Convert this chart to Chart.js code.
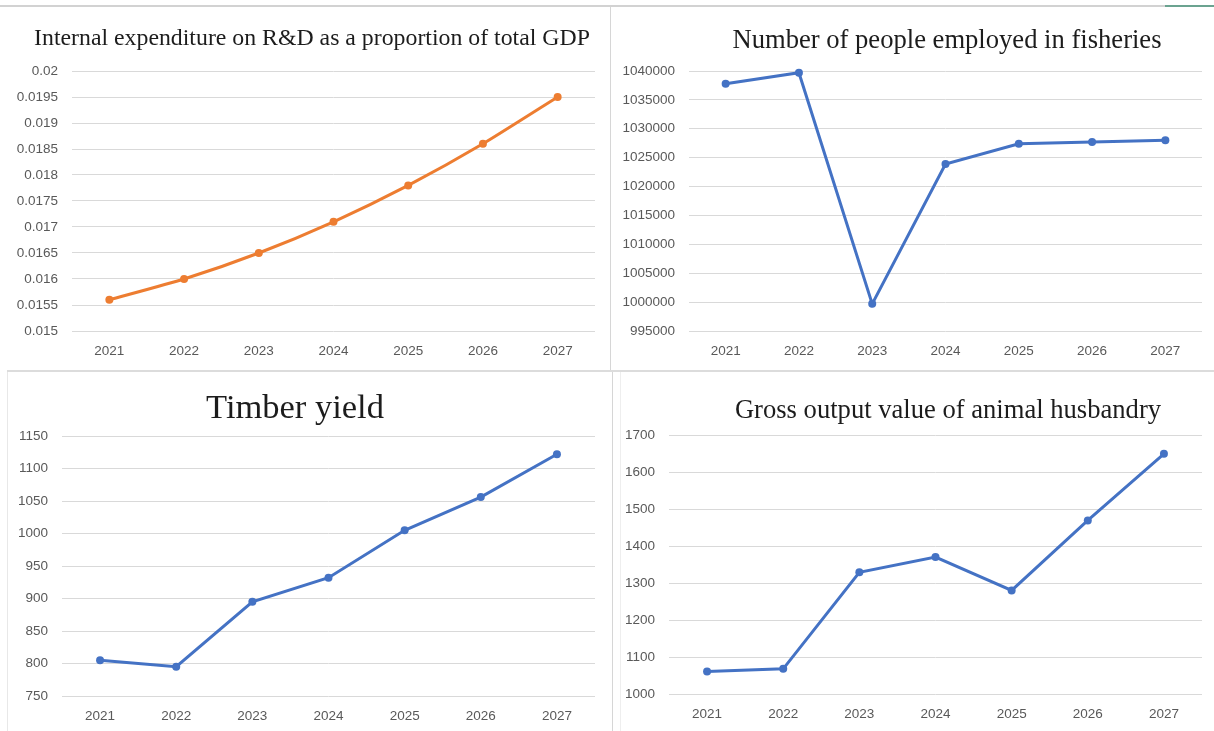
<!DOCTYPE html>
<html>
<head>
<meta charset="utf-8">
<script src="https://cdn.jsdelivr.net/npm/chart.js@4.4.1/dist/chart.umd.min.js"></script>
<style>
  html, body { margin: 0; padding: 0; background: #fff; }
  #page { position: relative; width: 1214px; height: 731px; overflow: hidden; }
  canvas { position: absolute; }
  .title {
    position: absolute;
    width: 640px;
    text-align: center;
    white-space: nowrap;
    font-family: "Liberation Serif", "DejaVu Serif", serif;
    color: #1c1c1c;
  }
  .rule { position: absolute; }
</style>
</head>
<body>
<div id="page">
  <div class="rule" style="left:0;top:5px;width:1165px;height:2px;background:#d2d2d2"></div>
  <div class="rule" style="left:1165px;top:5px;width:49px;height:2px;background:#6ba390"></div>
  <div class="rule" style="left:610px;top:7px;width:1px;height:363px;background:#d6d6d6"></div>
  <div class="rule" style="left:7px;top:370px;width:1207px;height:2px;background:#dcdcdc"></div>
  <div class="rule" style="left:7px;top:372px;width:1px;height:359px;background:#e8e8e8"></div>
  <div class="rule" style="left:612px;top:372px;width:1px;height:359px;background:#d6d6d6"></div>
  <div class="rule" style="left:620px;top:372px;width:1px;height:359px;background:#eeeeee"></div>

  <canvas id="rdChart" width="607" height="370" style="left:0;top:0"></canvas>
  <canvas id="fisheryChart" width="607" height="370" style="left:607px;top:0"></canvas>
  <canvas id="timberChart" width="607" height="359" style="left:0;top:372px"></canvas>
  <canvas id="husbandryChart" width="607" height="359" style="left:607px;top:372px"></canvas>

  <div class="title" style="left:-8px;top:23px;font-size:23.8px;line-height:28px">Internal expenditure on R&amp;D as a proportion of total GDP</div>
  <div class="title" style="left:627px;top:24px;font-size:26.6px;line-height:30px">Number of people employed in fisheries</div>
  <div class="title" style="left:-25px;top:386px;font-size:34.5px;line-height:40px">Timber yield</div>
  <div class="title" style="left:628px;top:394px;font-size:26.6px;line-height:30px">Gross output value of animal husbandry</div>
</div>

<script>
const years = ["2021", "2022", "2023", "2024", "2025", "2026", "2027"];

const rdShare = [0.0156, 0.0160, 0.0165, 0.0171, 0.0178, 0.0186, 0.0195];
const fisheryJobs = [1037800, 1039700, 999700, 1023900, 1027400, 1027700, 1028000];
const timberYield = [805, 795, 895, 932, 1005, 1056, 1122];
const husbandryOutput = [1061, 1068, 1329, 1370, 1280, 1469, 1649];

// y axis ranges as shown in the picture
const rdAxis = { min: 0.015, max: 0.02, step: 0.0005 };
const fisheryAxis = { min: 995000, max: 1040000, step: 5000 };
const timberAxis = { min: 750, max: 1150, step: 50 };
const husbandryAxis = { min: 1000, max: 1700, step: 100 };

const labelFont = { family: "'Liberation Sans', Arial, sans-serif", size: 13.5 };

function makeLineChart(id, values, axis, color, box) {
  const ctx = document.getElementById(id).getContext("2d");
  return new Chart(ctx, {
    type: "line",
    data: {
      labels: years,
      datasets: [{
        data: values,
        borderColor: color,
        backgroundColor: color,
        borderWidth: 3,
        pointRadius: 4,
        pointBorderWidth: 0,
        pointBackgroundColor: color,
        tension: box.tension || 0,
        clip: false
      }]
    },
    options: {
      responsive: false,
      animation: false,
      layout: {
        padding: { left: 0, right: box.right, top: box.top, bottom: box.bottom }
      },
      plugins: {
        legend: { display: false },
        tooltip: { enabled: false }
      },
      scales: {
        x: {
          offset: true,
          grid: { display: false, drawTicks: false },
          border: { display: false },
          ticks: { color: "#595959", font: labelFont, padding: 12, maxRotation: 0 },
          afterFit: s => { s.height = 30; }
        },
        y: {
          min: axis.min,
          max: axis.max,
          grid: { color: "#d9d9d9", lineWidth: 1, drawTicks: false },
          border: { display: false },
          ticks: {
            stepSize: axis.step,
            color: "#595959",
            font: labelFont,
            padding: 14,
            callback: v => String(parseFloat(v.toFixed(4)))
          },
          afterFit: s => { s.width = box.axisWidth; }
        }
      }
    }
  });
}

makeLineChart("rdChart", rdShare, rdAxis, "#ED7D31",
  { axisWidth: 72, right: 12, top: 71, bottom: 9, tension: 0.2 });
makeLineChart("fisheryChart", fisheryJobs, fisheryAxis, "#4472C4",
  { axisWidth: 82, right: 12, top: 71, bottom: 9 });
makeLineChart("timberChart", timberYield, timberAxis, "#4472C4",
  { axisWidth: 62, right: 12, top: 64, bottom: 5 });
makeLineChart("husbandryChart", husbandryOutput, husbandryAxis, "#4472C4",
  { axisWidth: 62, right: 12, top: 63, bottom: 7 });
</script>
</body>
</html>
